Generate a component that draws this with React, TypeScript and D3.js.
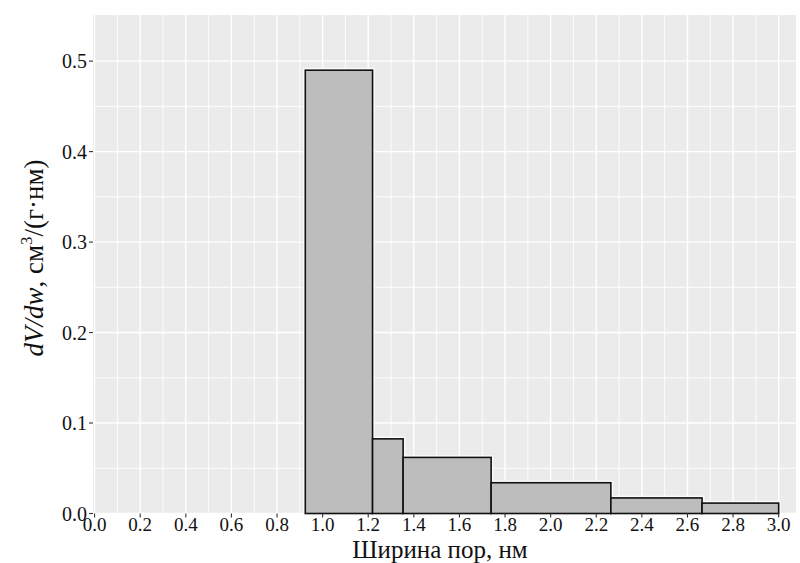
import React, { useEffect, useRef } from 'react';
import * as d3 from 'd3';

// bin edges (nm) and dV/dw values
const binEdges = [0.924, 1.219, 1.353, 1.739, 2.264, 2.664, 3.0];
const values = [0.49, 0.0825, 0.062, 0.034, 0.0172, 0.0115];
const xTicks = [0.0, 0.2, 0.4, 0.6, 0.8, 1.0, 1.2, 1.4, 1.6, 1.8, 2.0, 2.2, 2.4, 2.6, 2.8, 3.0];
const yTicks = [0.0, 0.1, 0.2, 0.3, 0.4, 0.5];

const App = () => {
  const ref = useRef<SVGSVGElement>(null);

  useEffect(() => {
    const width = 800;
    const height = 563;
    const left = 93;
    const right = 796;
    const top = 15;
    const bottom = 513.5;

    const svg = d3.select(ref.current);
    svg.selectAll('*').remove();

    const x = d3.scaleLinear().domain([-0.007, 3.076]).range([left, right]);
    const y = d3.scaleLinear().domain([0, 0.551]).range([bottom, top]);

    svg.append('rect')
      .attr('x', 0).attr('y', 0)
      .attr('width', width).attr('height', height)
      .attr('fill', '#fff');

    // panel
    svg.append('rect')
      .attr('x', left).attr('y', top)
      .attr('width', right - left).attr('height', bottom - top)
      .attr('fill', '#ebebeb');

    const minorX = d3.range(0.1, 3.1, 0.2);
    const minorY = d3.range(0.05, 0.55, 0.1);

    const grid = svg.append('g');
    grid.selectAll('.mx')
      .data(minorX)
      .enter()
      .append('line')
      .attr('x1', (d) => x(d)).attr('x2', (d) => x(d))
      .attr('y1', top).attr('y2', bottom)
      .attr('stroke', '#fff').attr('stroke-width', 0.9);
    grid.selectAll('.my')
      .data(minorY)
      .enter()
      .append('line')
      .attr('x1', left).attr('x2', right)
      .attr('y1', (d) => y(d)).attr('y2', (d) => y(d))
      .attr('stroke', '#fff').attr('stroke-width', 0.9);
    grid.selectAll('.gx')
      .data(xTicks)
      .enter()
      .append('line')
      .attr('x1', (d) => x(d)).attr('x2', (d) => x(d))
      .attr('y1', top).attr('y2', bottom)
      .attr('stroke', '#fff').attr('stroke-width', 1.4);
    grid.selectAll('.gy')
      .data(yTicks)
      .enter()
      .append('line')
      .attr('x1', left).attr('x2', right)
      .attr('y1', (d) => y(d)).attr('y2', (d) => y(d))
      .attr('stroke', '#fff').attr('stroke-width', 1.4);

    const bins = values.map((v, i) => ({ x0: binEdges[i], x1: binEdges[i + 1], v }));

    // light halo around bars
    svg.append('g')
      .selectAll('rect')
      .data(bins)
      .enter()
      .append('rect')
      .attr('x', (d) => x(d.x0)).attr('width', (d) => x(d.x1) - x(d.x0))
      .attr('y', (d) => y(d.v)).attr('height', (d) => y(0) - y(d.v))
      .attr('fill', 'none').attr('stroke', '#fafafa').attr('stroke-width', 4.5);

    svg.append('g')
      .selectAll('rect')
      .data(bins)
      .enter()
      .append('rect')
      .attr('x', (d) => x(d.x0)).attr('width', (d) => x(d.x1) - x(d.x0))
      .attr('y', (d) => y(d.v)).attr('height', (d) => y(0) - y(d.v))
      .attr('fill', '#bdbdbd').attr('stroke', '#111').attr('stroke-width', 1.6);

    const font = '"Liberation Serif", "Times New Roman", serif';

    // x axis
    const xa = svg.append('g').attr('transform', `translate(0,${bottom})`);
    xa.selectAll('line')
      .data(xTicks)
      .enter()
      .append('line')
      .attr('x1', (d) => x(d)).attr('x2', (d) => x(d))
      .attr('y1', 0).attr('y2', 4)
      .attr('stroke', '#333').attr('stroke-width', 1.1);
    xa.selectAll('text')
      .data(xTicks)
      .enter()
      .append('text')
      .attr('x', (d) => x(d)).attr('y', 17)
      .attr('text-anchor', 'middle')
      .style('font-family', font).style('font-size', '19px')
      .attr('fill', '#111')
      .text((d) => d.toFixed(1));

    // y axis
    const ya = svg.append('g').attr('transform', `translate(${left},0)`);
    ya.selectAll('line')
      .data(yTicks)
      .enter()
      .append('line')
      .attr('x1', -4).attr('x2', 0)
      .attr('y1', (d) => y(d)).attr('y2', (d) => y(d))
      .attr('stroke', '#333').attr('stroke-width', 1.1);
    ya.selectAll('text')
      .data(yTicks)
      .enter()
      .append('text')
      .attr('x', -6).attr('y', (d) => y(d) + 7)
      .attr('text-anchor', 'end')
      .style('font-family', font).style('font-size', '20px')
      .attr('fill', '#111')
      .text((d) => d.toFixed(1));

    // titles
    svg.append('text')
      .attr('x', 440).attr('y', 558)
      .attr('text-anchor', 'middle')
      .style('font-family', font).style('font-size', '25px')
      .attr('fill', '#111')
      .text('Ширина пор, нм');

    const yt = svg.append('text')
      .attr('transform', 'translate(43,258) rotate(-90)')
      .attr('text-anchor', 'middle')
      .style('font-family', font).style('font-size', '27px')
      .attr('fill', '#111');
    yt.append('tspan').style('font-style', 'italic').text('dV/dw');
    yt.append('tspan').text(', см');
    yt.append('tspan').attr('dy', -11).style('font-size', '17px').text('3');
    yt.append('tspan').attr('dy', 11).text('/(г·нм)');
  }, []);

  return <svg ref={ref} width={800} height={563} style={{ display: 'block', position: 'absolute', left: 0, top: 0 }} />;
};

export default App;
